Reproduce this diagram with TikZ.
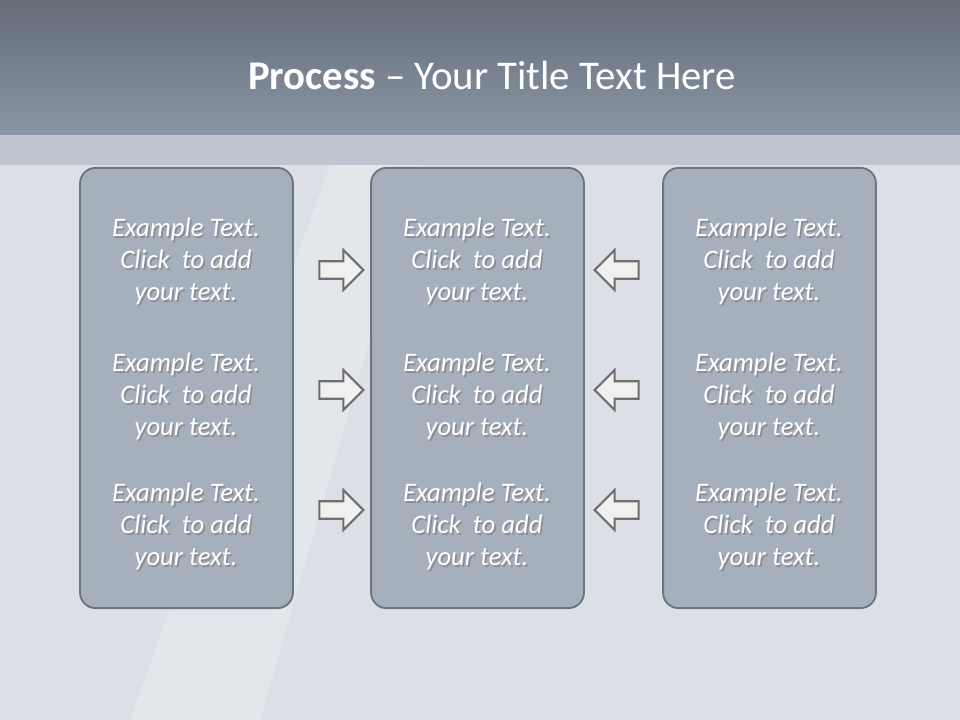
\documentclass[tikz,border=0pt]{standalone}
\usepackage{fontspec}
\setmainfont{Carlito}
\usetikzlibrary{shapes.arrows,positioning}
\definecolor{hdtop}{HTML}{646C78}
\definecolor{hdbot}{HTML}{8A96A6}
\definecolor{band}{HTML}{BEC5CE}
\definecolor{bgc}{HTML}{DCE0E6}
\definecolor{boxfill}{HTML}{A6B0BD}
\definecolor{boxline}{HTML}{6E7680}
\definecolor{arline}{HTML}{6E6E6E}
\tikzset{
  panel/.style={draw=boxline,line width=1.4pt,fill=boxfill,rounded corners=11pt,
                minimum width=5.32cm,minimum height=11cm,inner sep=0pt},
  txt/.style={align=center,text=white,font=\fontsize{19}{22.7}\selectfont\itshape},
  shd/.style={txt,text=black!55,opacity=0.55},
  blk/.style={single arrow,draw=arline,line width=1.5pt,fill=white!94!black,
              minimum height=1.1cm,minimum width=0.95cm,inner xsep=0pt,inner ysep=5.5pt,
              single arrow head extend=0.28cm,single arrow head indent=0pt},
}
% text with a soft drop shadow
\newcommand{\shtext}[3]{%
  \node[shd] at ([xshift=1.2pt,yshift=-1.4pt]#1) {#3};
  \node[txt] (#2) at (#1) {#3};}
\begin{document}
\begin{tikzpicture}[x=0.025cm,y=-0.025cm]
  % background and header
  \fill[bgc] (0,0) rectangle (960,720);
  \fill[white,opacity=0.2] (130,720) -- (330,165) -- (420,165) -- (260,720) -- cycle;
  \fill[band] (0,135) rectangle (960,165);
  \shade[top color=hdtop,bottom color=hdbot] (0,0) rectangle (960,135);
  \node[text=white,font=\fontsize{29}{34}\selectfont] (title) at (492,75)
    {\textbf{Process} -- Your Title Text Here};

  % three panels
  \node[panel] (left) at (186.5,388) {};
  \node[panel] (mid) at (477.5,388) {};
  \node[panel] (right) at (769.5,388) {};

  \foreach \c/\n in {186/l,477/m,769/r}{
    \foreach \y/\k in {261/a,396/b,526/c}{
      \shtext{\c,\y}{t\n\k}{Example Text.\\Click\ \ to add\\your text.}
    }
  }

  % arrows between panels
  \foreach \y/\k in {270/a,390/b,510/c}{
    \node[blk] (ra\k) at (337,\y) {};
    \node[blk,shape border rotate=180] (la\k) at (621,\y) {};
  }
\end{tikzpicture}
\end{document}
